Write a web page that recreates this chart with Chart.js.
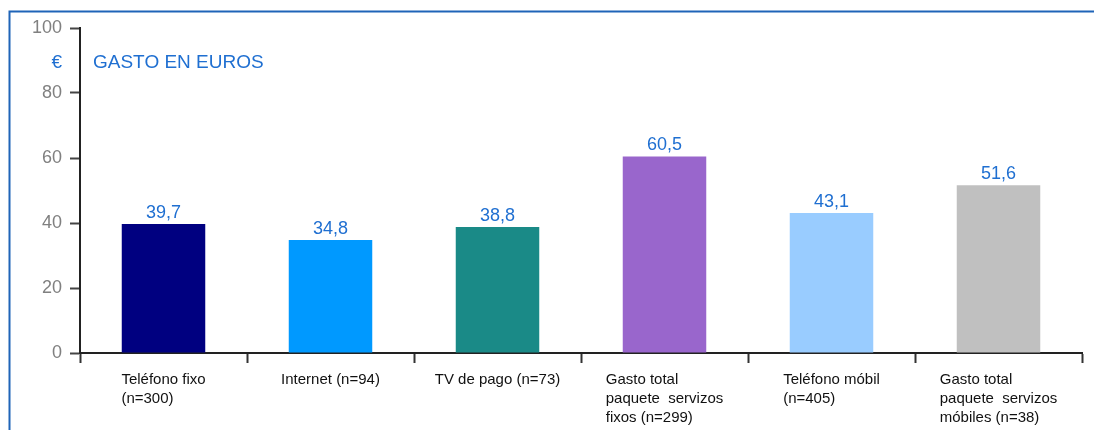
<!DOCTYPE html>
<html>
<head>
<meta charset="utf-8">
<script src="https://cdn.jsdelivr.net/npm/chart.js@4/dist/chart.umd.min.js"></script>
<style>
  html, body { margin: 0; padding: 0; background: #fff; }
  #wrap { width: 1094px; height: 430px; }
</style>
</head>
<body>
<div id="wrap"><canvas id="chart" width="1094" height="430"></canvas></div>
<script>
// Categories (each line of the axis label), values and colours
const categories = [
    ['Teléfono fixo', '(n=300)'],
    ['Internet (n=94)'],
    ['TV de pago (n=73)'],
    ['Gasto total', 'paquete  servizos', 'fixos (n=299)'],
    ['Teléfono móbil', '(n=405)'],
    ['Gasto total', 'paquete  servizos', 'móbiles (n=38)']
];
const values = [39.7, 34.8, 38.8, 60.5, 43.1, 51.6];
const barColors = ['#000080', '#0099ff', '#1a8a87', '#9966cc', '#99ccff', '#c0c0c0'];
const yTicks = [0, 20, 40, 60, 80, 100];

const BLUE = '#1f6fd1';
const FONT = 'Arial, "Liberation Sans", sans-serif';

// Frame, unit text, value labels and left-aligned category labels
const decorations = {
    id: 'decorations',
    beforeDraw(chart) {
        const ctx = chart.ctx;
        ctx.save();
        ctx.strokeStyle = '#1f64b8';
        ctx.lineWidth = 2;
        ctx.beginPath();
        ctx.moveTo(9.5, 430);
        ctx.lineTo(9.5, 11.5);
        ctx.lineTo(1094, 11.5);
        ctx.stroke();
        ctx.restore();
    },
    afterDraw(chart) {
        const ctx = chart.ctx;
        const x = chart.scales.x;
        const area = chart.chartArea;
        ctx.save();

        // unit and title
        ctx.fillStyle = BLUE;
        ctx.textBaseline = 'middle';
        ctx.font = '19px ' + FONT;
        ctx.textAlign = 'right';
        ctx.fillText('€', 62, 63);
        ctx.textAlign = 'left';
        ctx.fillText('GASTO EN EUROS', 93, 63);

        // values above bars
        ctx.font = '18px ' + FONT;
        ctx.textAlign = 'center';
        ctx.textBaseline = 'bottom';
        chart.getDatasetMeta(0).data.forEach((bar, i) => {
            ctx.fillText(values[i].toFixed(1).replace('.', ','), bar.x, bar.y - 2);
        });

        // category labels: block centred, lines left-aligned
        ctx.fillStyle = '#111';
        ctx.font = '15px ' + FONT;
        ctx.textAlign = 'left';
        ctx.textBaseline = 'middle';
        categories.forEach((lines, i) => {
            const cx = x.getPixelForValue(i);
            const w = Math.max(...lines.map(l => ctx.measureText(l).width));
            lines.forEach((line, j) => {
                ctx.fillText(line, cx - w / 2, area.bottom + 27 + j * 19);
            });
        });
        ctx.restore();
    }
};

new Chart(document.getElementById('chart').getContext('2d'), {
    type: 'bar',
    data: {
        labels: categories.map(c => c.join(' ')),
        datasets: [{
            data: values,
            backgroundColor: barColors,
            borderWidth: 0,
            categoryPercentage: 1,
            barPercentage: 0.5
        }]
    },
    options: {
        responsive: false,
        animation: false,
        layout: { padding: { top: 28, right: 12, left: 0, bottom: 0 } },
        plugins: {
            legend: { display: false },
            tooltip: { enabled: false }
        },
        scales: {
            x: {
                border: { color: '#222', width: 2 },
                grid: {
                    offset: true,
                    drawOnChartArea: false,
                    tickLength: 10,
                    tickWidth: 2,
                    color: ctx => ctx.index === categories.length ? 'rgba(0,0,0,0)' : '#333'
                },
                ticks: { display: false },
                afterFit(scale) { scale.height = 77; }
            },
            y: {
                min: 0,
                max: 100,
                border: { color: '#222', width: 2 },
                grid: {
                    drawOnChartArea: false,
                    tickLength: 10,
                    tickWidth: 2,
                    color: '#444'
                },
                afterBuildTicks(scale) { scale.ticks = yTicks.map(v => ({ value: v })); },
                ticks: {
                    color: '#808080',
                    padding: 8,
                    font: { family: FONT, size: 18 }
                },
                afterFit(scale) { scale.width = 80; }
            }
        }
    },
    plugins: [decorations]
});
</script>
</body>
</html>
